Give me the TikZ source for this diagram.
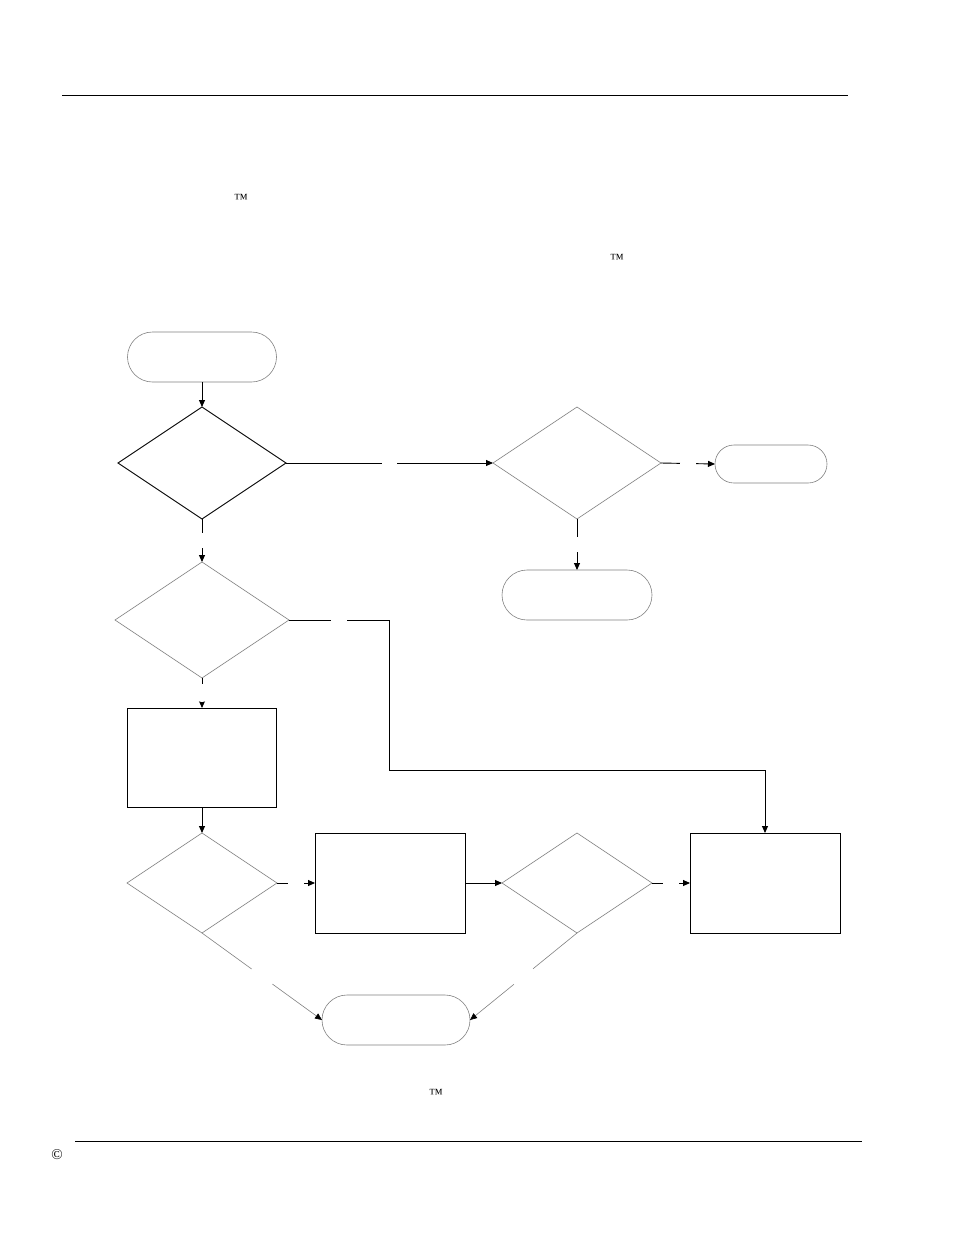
\documentclass[tikz,border=0pt]{standalone}
\usepackage{fontspec}
\setmainfont{Liberation Serif}
\usetikzlibrary{shapes.geometric,shapes.misc,arrows.meta}

\tikzset{
  term/.style 2 args={rounded rectangle, draw=gray, line width=0.6pt,
    inner sep=0pt, outer sep=0pt, minimum width=#1, minimum height=#2},
  decision/.style 2 args={diamond, draw=gray, line width=0.6pt,
    inner sep=0pt, outer sep=0pt, minimum width=#1, minimum height=#2},
  proc/.style 2 args={rectangle, draw, line width=0.9pt,
    inner sep=0pt, outer sep=0pt, minimum width=#1, minimum height=#2},
  flow/.style={line width=0.9pt, -{Triangle[length=7pt,width=6pt,color=black]}},
  lblgap/.style={circle, fill=white, inner sep=0pt, minimum size=#1},
  lblgap/.default=16pt,
  mark sign/.style={inner sep=0pt, font=\fontsize{14}{14}\selectfont}
}

\begin{document}
\begin{tikzpicture}[x=1pt,y=-1pt]
\useasboundingbox (0,0) rectangle (954,1235);

% page rules
\draw[line width=0.9pt] (62,95) -- (848,95);
\draw[line width=0.9pt] (75,1141) -- (862,1141);

\node[mark sign] (tmA) at (241,199) {™};
\node[mark sign] (tmB) at (617,259) {™};
\node[mark sign] (tmC) at (436,1094) {™};
\node[inner sep=0pt, font=\fontsize{15}{15}\selectfont] (copy) at (57,1155) {©};

% flow chart
\node[term={149pt}{50pt}] (start) at (202,357) {};
\node[decision={168pt}{112pt}, draw=black, line width=0.9pt] (chk1) at (202,463) {};
\node[decision={168pt}{112pt}] (chk2) at (577,463) {};
\node[term={112pt}{38pt}] (endA) at (771,464) {};
\node[term={150pt}{50pt}] (endB) at (577,595) {};
\node[decision={174pt}{116pt}] (chk3) at (202,620) {};
\node[proc={149pt}{99pt}] (stepA) at (202,757.5) {};
\node[decision={150pt}{100pt}] (chk4) at (202,883) {};
\node[proc={150pt}{100pt}] (stepB) at (390,883) {};
\node[decision={150pt}{100pt}] (chk5) at (577,883) {};
\node[proc={150pt}{100pt}] (stepC) at (765,883) {};
\node[term={148pt}{50pt}] (done) at (396,1020) {};

\draw[flow] (start) -- (chk1);
\draw[flow] (chk1.east) -- node[lblgap=15pt] {} (chk2.west);
\draw[flow] (chk2.east) -- node[lblgap] {} (endA.west);
\draw[flow] (chk2.south) -- node[lblgap=15pt] {} (endB.north);
\draw[flow] (chk1.south) -- node[lblgap=15pt] {} (chk3.north);
\draw[flow] (chk3.east) -- node[lblgap] {} ++(100,0) -- ++(0,150) -| (stepC.north);
\draw[flow] (chk3.south) -- node[lblgap=18pt] {} (stepA.north);
\draw[flow] (stepA) -- (chk4);
\draw[flow] (chk4.east) -- node[lblgap] {} (stepB.west);
\draw[flow] (stepB) -- (chk5);
\draw[flow] (chk5.east) -- node[lblgap] {} (stepC.west);
\draw[flow, draw=gray, line width=0.6pt] (chk4.south) -- node[lblgap=26pt] {} (done.west);
\draw[flow, draw=gray, line width=0.6pt] (chk5.south) -- node[lblgap=25pt] {} (done.east);
\end{tikzpicture}
\end{document}
